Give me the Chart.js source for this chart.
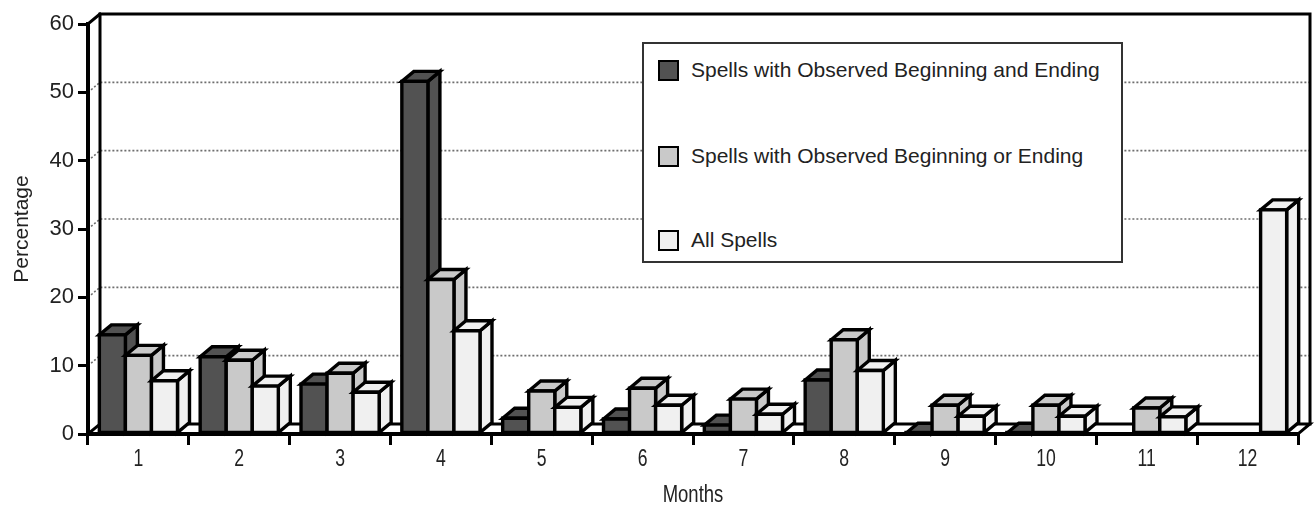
<!DOCTYPE html>
<html><head><meta charset="utf-8">
<script src="https://cdn.jsdelivr.net/npm/chart.js@4/dist/chart.umd.min.js"></script>
<style>
html,body{margin:0;padding:0;background:#fff;}
#wrap{position:relative;width:1314px;height:506px;overflow:hidden;}
#legend{position:absolute;left:642px;top:42px;width:477px;height:217px;border:2px solid #333;background:#fff;font-family:'Liberation Sans',Arial,sans-serif;font-size:21px;color:#222;}
.item{position:absolute;left:14px;height:24px;display:flex;align-items:center;white-space:nowrap;}
.sw{width:17px;height:17px;border:2px solid #000;margin-right:12px;box-sizing:content-box;}
</style></head>
<body>
<div id="wrap">
<canvas id="c" width="1314" height="506"></canvas>
<div id="legend"></div>
</div>
<script>
// ---- data ----
const categories = ['1','2','3','4','5','6','7','8','9','10','11','12'];
const seriesNames = ['Spells with Observed Beginning and Ending','Spells with Observed Beginning or Ending','All Spells'];
const bothObserved = [14.5, 11.3, 7.3, 51.6, 2.3, 2.2, 1.3, 7.9, 0.1, 0.1, 0, 0];
const oneObserved  = [11.5, 10.8, 8.9, 22.6, 6.3, 6.7, 5.1, 13.8, 4.2, 4.2, 3.8, 0];
const allSpells    = [7.8, 7.0, 6.1, 15.1, 3.9, 4.2, 2.9, 9.3, 2.6, 2.6, 2.5, 32.8];
const yTicks = [0, 10, 20, 30, 40, 50, 60];
const xTitle = 'Months';
const yTitle = 'Percentage';
const colors = ['#525252', '#c9c9c9', '#f0f0f0'];

const DX = 12, DY = -10;
const NARROW = 0.8;

const threeD = {
  id: 'threeD',
  beforeDatasetsDraw(chart) {
    const {ctx, chartArea: {left, right, top, bottom}, scales: {x, y}} = chart;
    ctx.save();
    ctx.fillStyle = '#fff';
    ctx.beginPath();
    ctx.moveTo(left, bottom); ctx.lineTo(right, bottom);
    ctx.lineTo(right + DX, bottom + DY); ctx.lineTo(left + DX, bottom + DY);
    ctx.closePath(); ctx.fill();
    ctx.strokeStyle = '#6e6e6e'; ctx.lineWidth = 1.6; ctx.setLineDash([2, 2]);
    yTicks.forEach(v => {
      if (v === 0 || v === 60) return;
      const py = y.getPixelForValue(v);
      ctx.beginPath();
      ctx.moveTo(left, py); ctx.lineTo(left + DX, py + DY); ctx.lineTo(right + DX, py + DY);
      ctx.stroke();
    });
    ctx.setLineDash([]);
    ctx.strokeStyle = '#000'; ctx.lineCap = 'square'; ctx.lineJoin = 'miter';
    ctx.lineWidth = 3;
    ctx.beginPath();
    ctx.moveTo(left + DX, bottom + DY); ctx.lineTo(left + DX, top + DY);
    ctx.lineTo(right + DX, top + DY); ctx.lineTo(right + DX, bottom + DY);
    ctx.stroke();
    ctx.beginPath();
    ctx.moveTo(left + DX, bottom + DY); ctx.lineTo(right + DX, bottom + DY);
    ctx.lineTo(right, bottom);
    ctx.stroke();
    ctx.beginPath();
    ctx.moveTo(left, top); ctx.lineTo(left + DX, top + DY);
    ctx.moveTo(left, bottom); ctx.lineTo(left + DX, bottom + DY);
    ctx.stroke();
    ctx.lineWidth = 4;
    ctx.beginPath();
    ctx.moveTo(left, top); ctx.lineTo(left, bottom); ctx.lineTo(right, bottom);
    ctx.stroke();

    const metas = chart.data.datasets.map((d, i) => chart.getDatasetMeta(i));
    ctx.lineWidth = 3.4; ctx.lineCap = 'butt';
    for (let i = 0; i < categories.length; i++) {
      metas.forEach((m, di) => {
        const v = chart.data.datasets[di].data[i];
        if (!v) return;
        const el = m.data[i];
        const p = el.getProps(['x', 'y', 'base', 'width'], true);
        const xl = p.x - p.width / 2, xr = p.x + p.width / 2, yt = p.y, yb = p.base;
        ctx.fillStyle = colors[di];
        ctx.beginPath();
        ctx.moveTo(xr, yt); ctx.lineTo(xr + DX, yt + DY); ctx.lineTo(xr + DX, yb + DY); ctx.lineTo(xr, yb);
        ctx.closePath(); ctx.fill(); ctx.stroke();
        ctx.beginPath();
        ctx.moveTo(xl, yt); ctx.lineTo(xr, yt); ctx.lineTo(xr + DX, yt + DY); ctx.lineTo(xl + DX, yt + DY);
        ctx.closePath(); ctx.fill(); ctx.stroke();
        ctx.beginPath();
        ctx.rect(xl, yt, xr - xl, yb - yt);
        ctx.fill(); ctx.stroke();
      });
    }
    ctx.restore();
    return false;
  },
  afterDraw(chart) {
    const {ctx, chartArea: {left, right}, scales: {x}} = chart;
    ctx.save();
    ctx.fillStyle = '#222';
    ctx.textAlign = 'center'; ctx.textBaseline = 'middle';
    ctx.font = "22px 'Liberation Sans', Arial, sans-serif";
    x.ticks.forEach((t, i) => {
      const px = x.getPixelForTick(i);
      ctx.save(); ctx.translate(px, 460); ctx.scale(NARROW, 1.05);
      ctx.fillText(categories[i], 0, 0); ctx.restore();
    });
    ctx.save(); ctx.translate((left + right) / 2, 496); ctx.scale(NARROW * 1.05, 1.05);
    ctx.fillText(xTitle, 0, 0); ctx.restore();
    ctx.restore();
  }
};

new Chart(document.getElementById('c'), {
  type: 'bar',
  data: {
    labels: categories,
    datasets: [
      {label: seriesNames[0], data: bothObserved, backgroundColor: colors[0]},
      {label: seriesNames[1], data: oneObserved, backgroundColor: colors[1]},
      {label: seriesNames[2], data: allSpells, backgroundColor: colors[2]}
    ]
  },
  options: {
    responsive: false,
    animation: false,
    events: [],
    categoryPercentage: 0.775,
    barPercentage: 1.0,
    layout: {padding: {top: 24, right: 16, left: 0, bottom: 0}},
    plugins: {legend: {display: false}, tooltip: {enabled: false}},
    scales: {
      y: {
        min: 0, max: 60,
        afterFit(s) { s.width = 88; },
        afterBuildTicks(s) { s.ticks = yTicks.map(v => ({value: v})); },
        ticks: {color: '#222', padding: 4, font: {family: "'Liberation Sans', Arial, sans-serif", size: 22}},
        grid: {drawOnChartArea: false, drawTicks: true, tickLength: 10, lineWidth: 3, color: '#000'},
        border: {display: false},
        title: {display: true, text: yTitle, color: '#222', padding: {top: 12, bottom: 0},
                font: {family: "'Liberation Sans', Arial, sans-serif", size: 21, lineHeight: 1}}
      },
      x: {
        afterFit(s) { s.height = 72; },
        ticks: {display: false},
        grid: {drawOnChartArea: false, drawTicks: true, tickLength: 11, lineWidth: 3, color: '#000', offset: true},
        border: {display: false},
        title: {display: false}
      }
    }
  },
  plugins: [threeD]
});

const lg = document.getElementById('legend');
const itemTops = [14, 100, 184];
seriesNames.forEach((n, i) => {
  const d = document.createElement('div');
  d.className = 'item';
  d.style.top = itemTops[i] + 'px';
  const sw = document.createElement('span');
  sw.className = 'sw'; sw.style.background = colors[i];
  const t = document.createElement('span');
  t.textContent = n;
  d.appendChild(sw); d.appendChild(t);
  lg.appendChild(d);
});
</script>
</body></html>
